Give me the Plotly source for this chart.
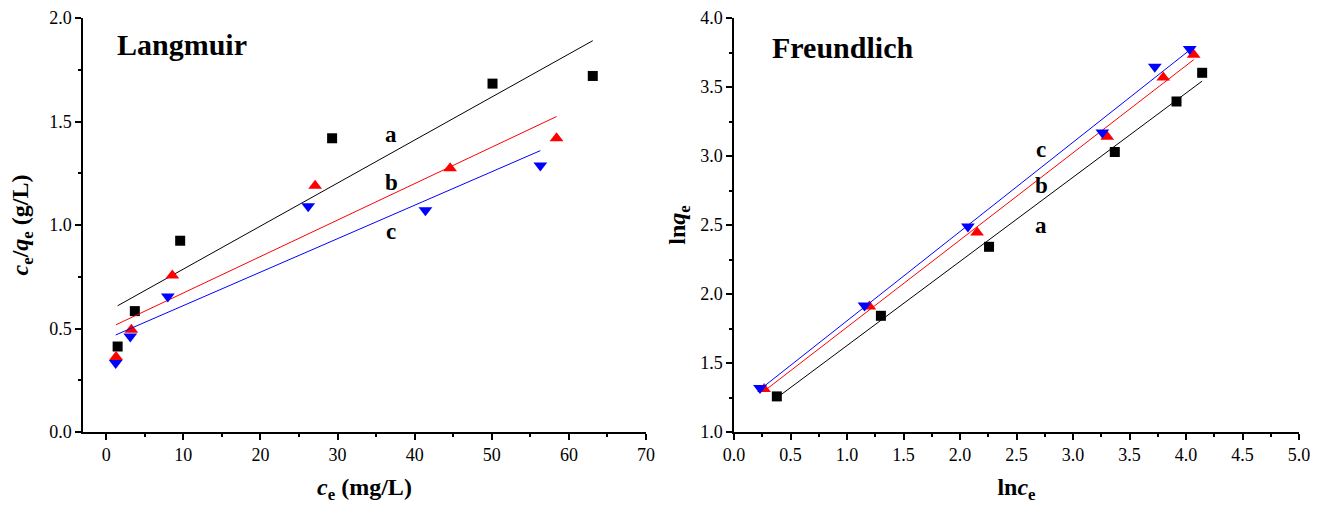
import numpy as np
import plotly.graph_objects as go

# Langmuir linearisation: c_e versus c_e/q_e
lang_ce_a = [1.49, 3.72, 9.6, 29.3, 50.1, 63.1]
lang_ratio_a = [0.413, 0.584, 0.924, 1.419, 1.683, 1.72]
lang_ce_b = [1.29, 3.27, 8.58, 27.1, 44.6, 58.4]
lang_ratio_b = [0.362, 0.494, 0.756, 1.19, 1.274, 1.419]
lang_ce_c = [1.24, 3.13, 8.0, 26.2, 41.4, 56.3]
lang_ratio_c = [0.333, 0.461, 0.654, 1.09, 1.071, 1.287]

# Freundlich linearisation: ln c_e versus ln q_e
fr_lnce_a = [0.379, 1.30, 2.257, 3.37, 3.916, 4.143]
fr_lnqe_a = [1.258, 1.842, 2.342, 3.029, 3.395, 3.603]
fr_lnce_b = [0.266, 1.198, 2.151, 3.303, 3.799, 4.068]
fr_lnqe_b = [1.311, 1.909, 2.445, 3.139, 3.569, 3.734]
fr_lnce_c = [0.23, 1.155, 2.07, 3.26, 3.724, 4.033]
fr_lnqe_c = [1.318, 1.916, 2.49, 3.17, 3.646, 3.775]

series_names = ["a", "b", "c"]
series_colors = ["#000000", "#FF0000", "#0000FF"]
series_symbols = ["square", "triangle-up", "triangle-down"]

SERIF = "Liberation Serif"

fig = go.Figure()


def add_series(xs, ys, name, color, symbol, xa, ya):
    xs = np.asarray(xs)
    ys = np.asarray(ys)
    slope, intercept = np.polyfit(xs, ys, 1)
    xfit = np.array([xs.min(), xs.max()])
    fig.add_trace(go.Scatter(
        x=xfit, y=slope * xfit + intercept, mode="lines",
        line=dict(color=color, width=1), xaxis=xa, yaxis=ya,
        showlegend=False, hoverinfo="skip"))
    fig.add_trace(go.Scatter(
        x=xs, y=ys, mode="markers", name=name,
        marker=dict(symbol=symbol, size=10 if symbol == "square" else 12,
                    color=color, line=dict(width=0)),
        xaxis=xa, yaxis=ya, showlegend=False))


lang_sets = [(lang_ce_a, lang_ratio_a), (lang_ce_b, lang_ratio_b), (lang_ce_c, lang_ratio_c)]
fr_sets = [(fr_lnce_a, fr_lnqe_a), (fr_lnce_b, fr_lnqe_b), (fr_lnce_c, fr_lnqe_c)]

for (xs, ys), n, col, sym in zip(lang_sets, series_names, series_colors, series_symbols):
    add_series(xs, ys, n, col, sym, "x", "y")
for (xs, ys), n, col, sym in zip(fr_sets, series_names, series_colors, series_symbols):
    add_series(xs, ys, n, col, sym, "x2", "y2")

W, H = 1322, 507


def axis_common(**kw):
    base = dict(
        showline=True, linecolor="black", linewidth=1.5,
        ticks="outside", ticklen=6, tickwidth=1.5, tickcolor="black",
        showgrid=False, zeroline=False, mirror=False, automargin=False,
        tickfont=dict(family=SERIF, size=18, color="black"),
        title_font=dict(family=SERIF, size=24, color="black"),
    )
    base.update(kw)
    return base


fig.update_layout(
    width=W, height=H,
    margin=dict(l=0, r=0, t=0, b=0),
    paper_bgcolor="white", plot_bgcolor="white",
    xaxis=axis_common(
        domain=[83 / W, 646 / W], range=[-3, 70], dtick=10, tick0=0,
        minor=dict(ticks="outside", ticklen=3, tickwidth=1.5, dtick=5, tickcolor="black"),
        anchor="y",
        title=dict(text="<b><i>c</i><sub>e</sub> (mg/L)</b>", standoff=14)),
    yaxis=axis_common(
        domain=[(H - 432) / H, (H - 18) / H], range=[0, 2.0], dtick=0.5, tickformat=".1f",
        minor=dict(ticks="outside", ticklen=3, tickwidth=1.5, dtick=0.25, tickcolor="black"),
        anchor="x",
        title=dict(text="<b><i>c</i><sub>e</sub>/<i>q</i><sub>e</sub> (g/L)</b>", standoff=14)),
    xaxis2=axis_common(
        domain=[734 / W, 1299 / W], range=[0, 5], dtick=0.5, tickformat=".1f",
        minor=dict(ticks="outside", ticklen=3, tickwidth=1.5, dtick=0.25, tickcolor="black"),
        anchor="y2",
        title=dict(text="<b>ln<i>c</i><sub>e</sub></b>", standoff=14)),
    yaxis2=axis_common(
        domain=[(H - 432) / H, (H - 18) / H], range=[1, 4], dtick=0.5, tickformat=".1f",
        minor=dict(ticks="outside", ticklen=3, tickwidth=1.5, dtick=0.25, tickcolor="black"),
        anchor="x2",
        title=dict(text="<b>ln<i>q</i><sub>e</sub></b>", standoff=8)),
)

# Panel titles and curve labels
panel_titles = [("Langmuir", 1.14, 1.871, "x", "y"), ("Freundlich", 0.319, 3.785, "x2", "y2")]
for txt, xv, yv, xr, yr in panel_titles:
    fig.add_annotation(text=f"<b>{txt}</b>", x=xv, y=yv, xref=xr, yref=yr,
                       xanchor="left", yanchor="middle", showarrow=False,
                       font=dict(family=SERIF, size=30, color="black"))

lang_label_x = [37.0, 37.0, 37.0]
lang_label_y = [1.436, 1.203, 0.97]
fr_label_x = [2.718, 2.718, 2.718]
fr_label_y = [2.496, 2.785, 3.05]

for n, xv, yv in zip(series_names, lang_label_x, lang_label_y):
    fig.add_annotation(text=f"<b>{n}</b>", x=xv, y=yv, xref="x", yref="y",
                       showarrow=False, font=dict(family=SERIF, size=23, color="black"))
for n, xv, yv in zip(series_names, fr_label_x, fr_label_y):
    fig.add_annotation(text=f"<b>{n}</b>", x=xv, y=yv, xref="x2", yref="y2",
                       showarrow=False, font=dict(family=SERIF, size=23, color="black"))

fig.write_html("out.html")
